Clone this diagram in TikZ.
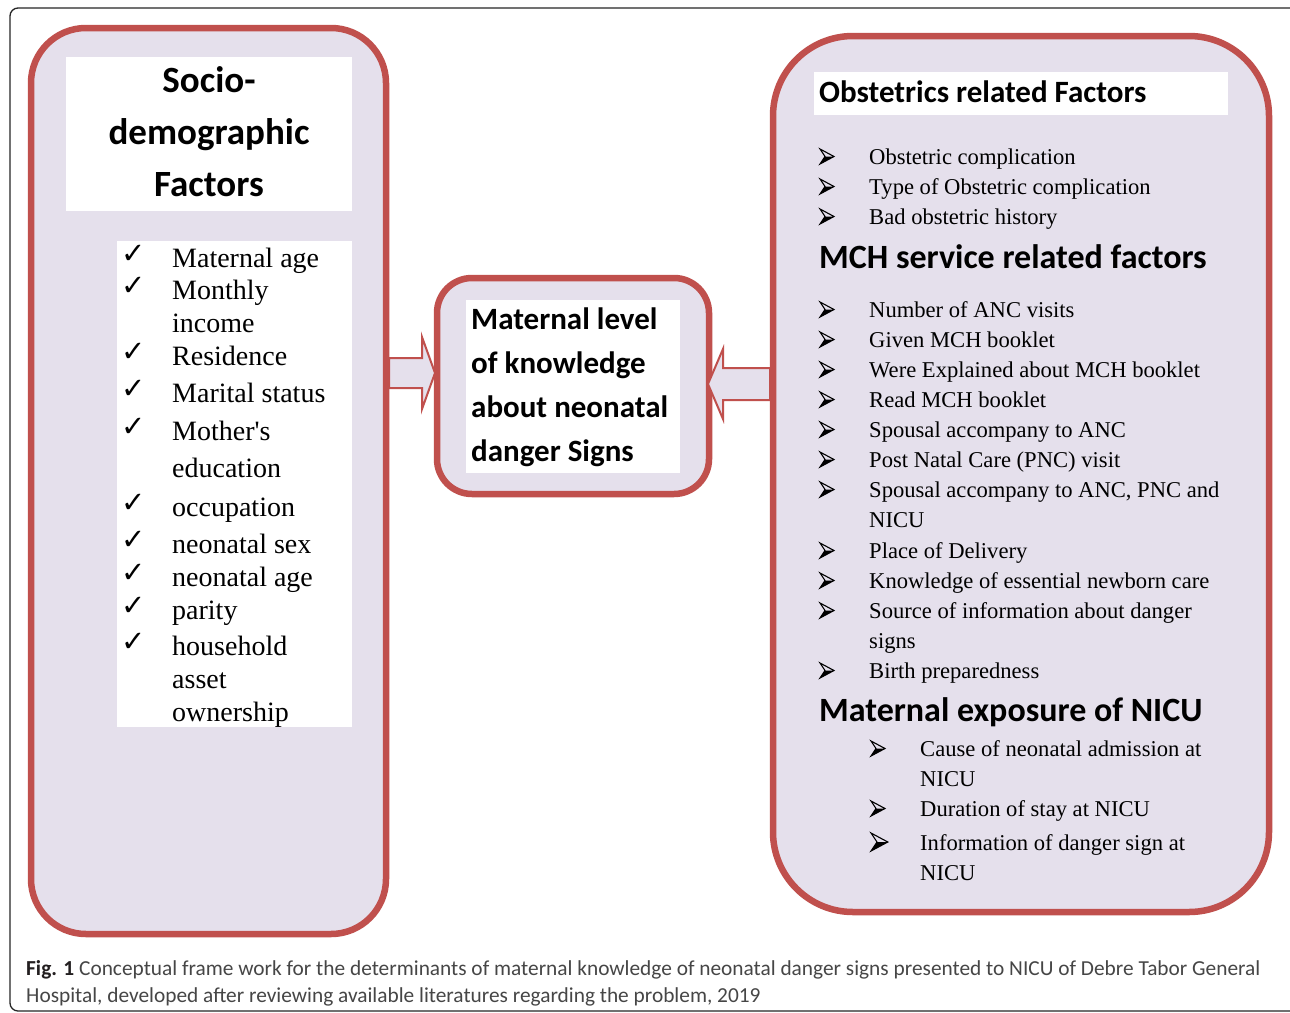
\documentclass[tikz,border=0pt]{standalone}
\usepackage{fontspec}
\setmainfont{Liberation Serif}
\newfontfamily\headfont{Carlito}
\newfontfamily\symfont{DejaVu Sans}
\usetikzlibrary{backgrounds,calc}
\definecolor{boxred}{RGB}{192,80,77}
\definecolor{lav}{RGB}{229,224,236}
\definecolor{shad}{RGB}{212,164,128}
\definecolor{capgray}{RGB}{70,70,70}
\definecolor{capdark}{RGB}{35,31,32}
\begin{document}
\begin{tikzpicture}[x=1pt,y=-1pt,
  bigbox/.style={draw=boxred, line width=6.5pt, fill=lav, rounded corners=#1, inner sep=0, outer sep=0, anchor=north west},
  whitebox/.style={fill=white, inner sep=0, outer sep=0, anchor=north west},
  barrow/.style={draw=boxred, line width=2pt, fill=lav, line join=miter},
  ttl/.style={font=\headfont\bfseries\fontsize{37}{37}\selectfont, anchor=base, inner sep=0},
  midt/.style={font=\headfont\bfseries\fontsize{31}{31}\selectfont, anchor=base west, inner sep=0},
  rhead/.style={font=\headfont\bfseries\fontsize{#1}{#1}\selectfont, anchor=base west, inner sep=0},
  chk/.style={font=\symfont\fontsize{29}{29}\selectfont, anchor=base west, inner sep=0},
  ltext/.style={font=\fontsize{28}{28}\selectfont, anchor=base west, inner sep=0},
  rtext/.style={font=\fontsize{22.6}{22.6}\selectfont, anchor=base west, inner sep=0},
  captext/.style={font=\headfont\fontsize{21.35}{21.35}\selectfont, text=capgray, anchor=base west, inner sep=0},
  pics/arrowbul/.style={code={
    \fill[black] (5,-7.5) -- (14,-7.5) -- (0,0) -- cycle;
    \draw[black, line width=1.1pt, line join=miter] (0,-15) -- (14,-7.5) -- (0,0) -- (5,-7.5) -- cycle;
  }}
]
\useasboundingbox (0,0) rectangle (1290,1012);
\clip (0,0) rectangle (1290,1012);
\fill[white] (0,0) rectangle (1290,1012);

% outer frame
\draw[line width=1.3pt, black!85, rounded corners=8pt] (10,8) rectangle (1320,1011);

% main boxes
\node[bigbox=55pt, minimum width=355, minimum height=906] (L) at (31,28) {};
\node[bigbox=35pt, minimum width=272, minimum height=216] (M) at (437,278) {};
\node[bigbox=80pt, minimum width=496, minimum height=876] (R) at (773,36) {};

% shadows
\begin{scope}[on background layer]
\foreach \n/\r in {L/55, M/35, R/80}
  \draw[shad, line width=6.5pt, rounded corners=\r pt]
    ([shift={(4,5)}]\n.north west) rectangle ([shift={(4,5)}]\n.south east);
\end{scope}

% white panels
\node[whitebox, minimum width=286, minimum height=154] (Lt) at (66,57) {};
\node[whitebox, minimum width=235, minimum height=486] (Ll) at (117,241) {};
\node[whitebox, minimum width=214, minimum height=173] (Mt) at (466,300) {};
\node[whitebox, minimum width=414, minimum height=43] (Rt) at (814,72) {};

% block arrows
\coordinate (a1s) at (L.east |- 0,373);
\coordinate (a1t) at (M.west |- 0,373);
\draw[barrow] ($(a1s)+(3,-15)$) -- ($(a1t)+(-15,-15)$) -- ($(a1t)+(-15,-36)$) -- ($(a1t)+(-2,0)$)
  -- ($(a1t)+(-15,36)$) -- ($(a1t)+(-15,15)$) -- ($(a1s)+(3,15)$) -- cycle;
\coordinate (a2s) at (R.west |- 0,384);
\coordinate (a2t) at (M.east |- 0,384);
\draw[barrow] ($(a2s)+(-3,-16)$) -- ($(a2t)+(14,-16)$) -- ($(a2t)+(14,-35)$) -- ($(a2t)+(-1,0)$)
  -- ($(a2t)+(14,35)$) -- ($(a2t)+(14,16)$) -- ($(a2s)+(-3,16)$) -- cycle;

% left title
\node[ttl] (t1) at (209,92) {Socio-};
\node[ttl] (t2) at (209,144) {demographic};
\node[ttl] (t3) at (209,196) {Factors};

% left list
\foreach \y [count=\i] in {267,299,365,402,440,516,553,586,619,655}
  \node[chk] (ck\i) at (121,\y-4) {✓};
\node[ltext] (l1) at (172,267) {Maternal age};
\node[ltext] (l2) at (172,299) {Monthly};
\node[ltext] (l2b) at (172,332) {income};
\node[ltext] (l3) at (172,365) {Residence};
\node[ltext] (l4) at (172,402) {Marital status};
\node[ltext] (l5) at (172,440) {Mother\textquotesingle s};
\node[ltext] (l5b) at (172,477) {education};
\node[ltext] (l6) at (172,516) {occupation};
\node[ltext] (l7) at (172,553) {neonatal sex};
\node[ltext] (l8) at (172,586) {neonatal age};
\node[ltext] (l9) at (172,619) {parity};
\node[ltext] (l10) at (172,655) {household};
\node[ltext] (l10b) at (172,688) {asset};
\node[ltext] (l10c) at (172,721) {ownership};

% middle text
\node[midt] (m1) at (471,329) {Maternal level};
\node[midt] (m2) at (471,373) {of knowledge};
\node[midt] (m3) at (471,417) {about neonatal};
\node[midt] (m4) at (471,461) {danger Signs};

% right headings
\node[rhead=31] (h1) at (819,102) {Obstetrics related Factors};
\node[rhead=34] (h2) at (819,268) {MCH service related factors};
\node[rhead=34] (h3) at (819,721) {Maternal exposure of NICU};

% right list
\foreach \y in {164,194,224,317,347,377,407,437,467,497,558,588,618,678}
  \pic at (820,\y) {arrowbul};
\node[rtext] (o1) at (869,164) {Obstetric complication};
\node[rtext] (o2) at (869,194) {Type of Obstetric complication};
\node[rtext] (o3) at (869,224) {Bad obstetric history};
\node[rtext] (s1) at (869,317) {Number of ANC visits};
\node[rtext] (s2) at (869,347) {Given MCH booklet};
\node[rtext] (s3) at (869,377) {Were Explained about MCH booklet};
\node[rtext] (s4) at (869,407) {Read MCH booklet};
\node[rtext] (s5) at (869,437) {Spousal accompany to ANC};
\node[rtext] (s6) at (869,467) {Post Natal Care (PNC) visit};
\node[rtext] (s7) at (869,497) {Spousal accompany to ANC, PNC and};
\node[rtext] (s7b) at (869,527) {NICU};
\node[rtext] (s8) at (869,558) {Place of Delivery};
\node[rtext] (s9) at (869,588) {Knowledge of essential newborn care};
\node[rtext] (s10) at (869,618) {Source of information about danger};
\node[rtext] (s10b) at (869,648) {signs};
\node[rtext] (s11) at (869,678) {Birth preparedness};

\pic at (871,756) {arrowbul};
\pic at (871,816) {arrowbul};
\pic[scale=1.2] at (871,851) {arrowbul};
\node[rtext] (e1) at (920,756) {Cause of neonatal admission at};
\node[rtext] (e1b) at (920,786) {NICU};
\node[rtext] (e2) at (920,816) {Duration of stay at NICU};
\node[rtext] (e3) at (920,850) {Information of danger sign at};
\node[rtext] (e3b) at (920,880) {NICU};

% caption
\node[captext] (cap1) at (26,975) {\textcolor{capdark}{\bfseries Fig. 1} Conceptual frame work for the determinants of maternal knowledge of neonatal danger signs presented to NICU of Debre Tabor General};
\node[captext] (cap2) at (26,1002) {Hospital, developed after reviewing available literatures regarding the problem, 2019};
\end{tikzpicture}
\end{document}
